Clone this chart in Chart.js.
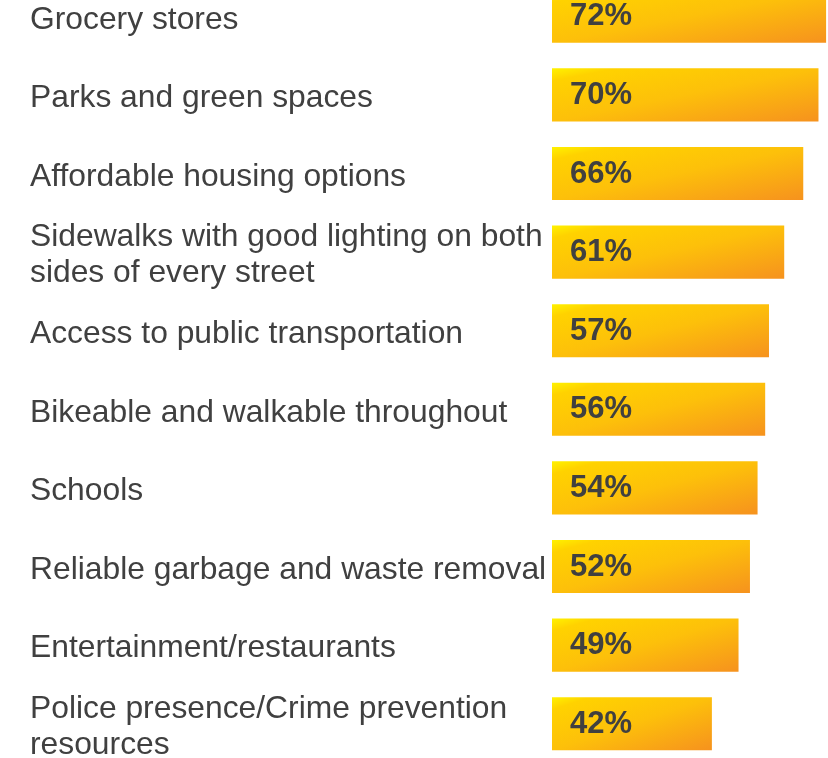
<!DOCTYPE html>
<html>
<head>
<meta charset="utf-8">
<script src="https://cdn.jsdelivr.net/npm/chart.js@4.4.0/dist/chart.umd.min.js"></script>
<style>
  html, body { margin: 0; padding: 0; background: #fff; overflow: hidden; }
  #wrap { position: absolute; left: 0; top: -23px; width: 828px; height: 786px; }
</style>
</head>
<body>
<div id="wrap"><canvas id="myChart"></canvas></div>
<script>
// data
let categories = [
  "Grocery stores",
  "Parks and green spaces",
  "Affordable housing options",
  ["Sidewalks with good lighting on both", "sides of every street"],
  "Access to public transportation",
  "Bikeable and walkable throughout",
  "Schools",
  "Reliable garbage and waste removal",
  "Entertainment/restaurants",
  ["Police presence/Crime prevention", "resources"]
];
let values = [72, 70, 66, 61, 57, 56, 54, 52, 49, 42];

// gradient per bar, yellow top-left to orange bottom-right
function bar_fill(ctx) {
  let chart = ctx.chart;
  if (!chart.chartArea || ctx.dataIndex === undefined) return "#FFC708";
  let xs = chart.scales.x, ys = chart.scales.y;
  let x0 = xs.getPixelForValue(0);
  let x1 = xs.getPixelForValue(values[ctx.dataIndex]);
  let h = ys.getPixelForValue(1) - ys.getPixelForValue(0);
  h = h * 0.675;
  let yc = ys.getPixelForValue(ctx.dataIndex);
  let y0 = yc - h / 2;
  let w = x1 - x0;
  let t = 2 * w * h / (h * h + w * w);
  let g = chart.ctx.createLinearGradient(x0, y0, x0 + t * h, y0 + t * w);
  g.addColorStop(0, "#FFF200");
  g.addColorStop(0.12, "#FFD200");
  g.addColorStop(0.5, "#FDC00A");
  g.addColorStop(1, "#F6921E");
  return g;
}

let value_labels = {
  id: "value_labels",
  afterDatasetsDraw(chart) {
    let c = chart.ctx;
    let meta = chart.getDatasetMeta(0);
    c.save();
    c.font = "bold 31px 'Liberation Sans', Arial, sans-serif";
    c.fillStyle = "#404040";
    c.textAlign = "left";
    c.textBaseline = "middle";
    meta.data.forEach((bar, i) => {
      c.fillText(values[i] + "%", bar.base + 18, bar.y + 0.5);
    });
    c.restore();
  }
};

new Chart("myChart", {
  type: "bar",
  data: {
    labels: categories,
    datasets: [{
      data: values,
      backgroundColor: bar_fill,
      borderWidth: 0,
      barPercentage: 0.675,
      categoryPercentage: 1
    }]
  },
  options: {
    indexAxis: "y",
    responsive: true,
    maintainAspectRatio: false,
    animation: false,
    layout: { padding: { left: 30, right: 0, top: 0, bottom: 0 } },
    plugins: { legend: { display: false }, tooltip: { enabled: false } },
    scales: {
      x: { display: false, min: 0, max: 72.5 },
      y: {
        grid: { display: false },
        border: { display: false },
        afterFit: function (scale) {
          scale.width = 522;
          scale.paddingTop = 0;
          scale.paddingBottom = 0;
          // labels sit a few px below the bar centre in the original
          if (!scale.shifted) {
            let draw_labels = scale.drawLabels;
            scale.drawLabels = function (area) {
              this.ctx.save();
              this.ctx.translate(0, 3.5);
              draw_labels.call(this, area);
              this.ctx.restore();
            };
            scale.shifted = true;
          }
        },
        ticks: {
          crossAlign: "far",
          color: "#404040",
          font: { family: "'Liberation Sans', Arial, sans-serif", size: 31.8, lineHeight: 1.13 }
        }
      }
    }
  },
  plugins: [value_labels]
});
</script>
</body>
</html>
